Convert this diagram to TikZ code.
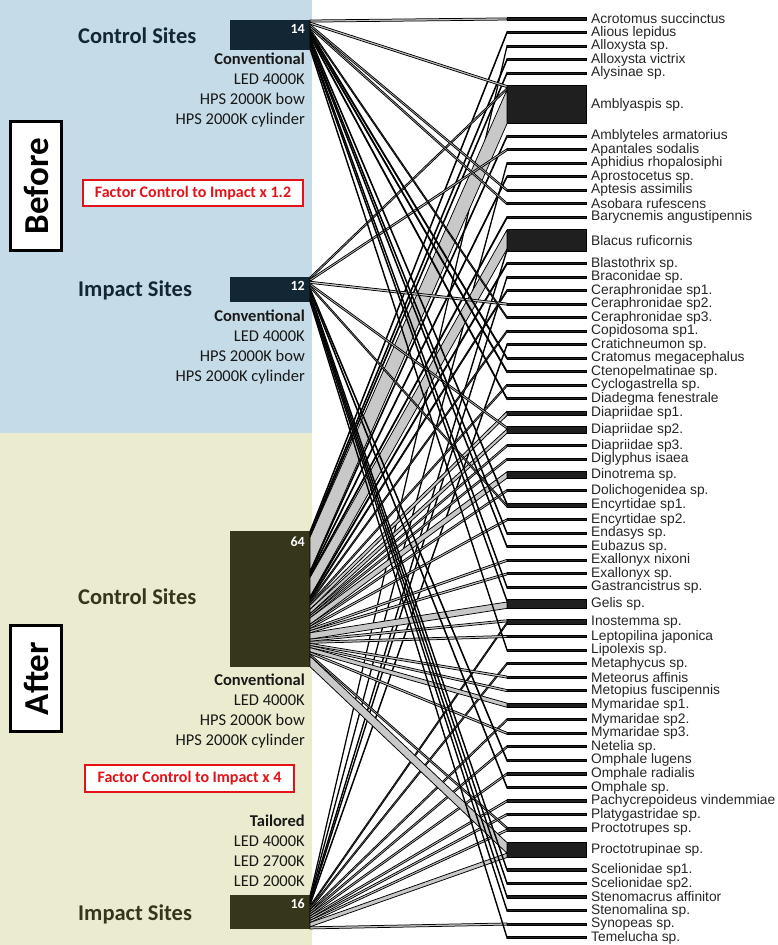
\documentclass[tikz,border=0pt]{standalone}
\usepackage{fontspec}
\setmainfont{Carlito}
\newfontfamily\arialfont{Liberation Sans}
\usetikzlibrary{positioning,calc}

\definecolor{beforebg}{RGB}{197,219,231}
\definecolor{afterbg}{RGB}{235,235,207}
\definecolor{navy}{RGB}{19,38,52}
\definecolor{olive}{RGB}{54,54,28}
\definecolor{linkgray}{RGB}{200,200,200}
\definecolor{factorred}{RGB}{226,18,24}

\def\wu{2.12}    % height of one individual
\def\wgap{11.41} % gap between the species bars

\tikzset{
  site/.style={
    rectangle,
    minimum width=80pt,
    inner sep=0pt,
    outer sep=0pt,
    anchor=north east
    },
  sitename/.style={
    anchor=west,
    inner sep=0pt,
    font=\fontsize{22.5}{24}\selectfont\bfseries
    },
  count/.style={
    inner sep=0pt,
    text=white,
    font=\fontsize{14}{14}\selectfont\bfseries
    },
  lamps/.style={
    align=right,
    inner sep=0pt,
    text=black!90,
    font=\fontsize{16.5}{20}\selectfont
    },
  period/.style={
    rectangle,
    draw=black,
    line width=3pt,
    fill=white,
    rotate=90,
    minimum height=51pt,
    font=\fontsize{35}{35}\selectfont\bfseries
    },
  factor/.style={
    rectangle,
    draw=factorred,
    line width=2pt,
    fill=white,
    text=factorred,
    font=\fontsize{16}{16}\selectfont\bfseries
    },
  bar/.style={
    rectangle,
    draw=black,
    fill=black!88,
    line width=0.9pt,
    minimum width=79pt,
    inner sep=0pt,
    outer sep=0pt,
    anchor=north west
    },
  splabel/.style={
    inner sep=0pt,
    text=black!85,
    font=\arialfont\fontsize{13.8}{14}\selectfont
    },
  link/.style={draw=black, fill=linkgray, line width=0.75pt, line join=round},
}

% one interaction: site node, number of individuals
\newcommand\weblink[2]{%
  \ifnum#2>0
    \pgfmathsetmacro\lw{#2*\wu}%
    \edef\lo{\csname off#1\endcsname}%
    \filldraw[link] ($(#1.north east)+(0,\lo)$) -- ($(#1.north east)+(0,\lo+\lw)$)
      -- ($(s\i.north west)+(0,\ro+\lw)$) -- ($(s\i.north west)+(0,\ro)$) -- cycle;
    \pgfmathsetmacro\tmp{\lo+\lw}\expandafter\xdef\csname off#1\endcsname{\tmp}%
    \pgfmathsetmacro\tmp{\ro+\lw}\xdef\ro{\tmp}%
  \fi}

\begin{document}
\begin{tikzpicture}[x=1pt, y=-1pt]

\useasboundingbox (0,0) rectangle (778,945);
\fill[white] (0,0) rectangle (778,945);
\fill[beforebg] (0,0) rectangle (312,433);
\fill[afterbg] (0,433) rectangle (312,945);

% sites
\node[site, fill=navy, minimum height={14*\wu*1pt}] (cb) at (310,20) {};
\node[site, fill=navy, minimum height={12*\wu*1pt}] (ib) at (310,277) {};
\node[site, fill=olive, minimum height={64*\wu*1pt}] (ca) at (310,531) {};
\node[site, fill=olive, minimum height={16*\wu*1pt}] (ia) at (310,895) {};

\node[count, below left=4pt and 5pt of cb.north east] (cbn) {14};
\node[count, below left=4pt and 5pt of ib.north east] (ibn) {12};
\node[count, below left=6pt and 5pt of ca.north east] (can) {64};
\node[count, below left=3.5pt and 5pt of ia.north east] (ian) {16};

\node[sitename, text=navy] (cbname) at (78,36) {Control Sites};
\node[sitename, text=navy] (ibname) at (78,290) {Impact Sites};
\node[sitename, text=olive] (caname) at (78,597) {Control Sites};
\node[sitename, text=olive] (ianame) at (78,914) {Impact Sites};

\node[lamps, below left=3.3pt and 5pt of cb.south east] (cblamps)
  {\textbf{Conventional}\\LED 4000K\\HPS 2000K bow\\HPS 2000K cylinder};
\node[lamps, below left=7pt and 5pt of ib.south east] (iblamps)
  {\textbf{Conventional}\\LED 4000K\\HPS 2000K bow\\HPS 2000K cylinder};
\node[lamps, below left=6.6pt and 5pt of ca.south east] (calamps)
  {\textbf{Conventional}\\LED 4000K\\HPS 2000K bow\\HPS 2000K cylinder};
\node[lamps, above left=8.3pt and 5pt of ia.north east] (ialamps)
  {\textbf{Tailored}\\LED 4000K\\LED 2700K\\LED 2000K};

\node[period, minimum width=129pt] (before) at (36,186) {Before};
\node[period, minimum width=106pt] (after) at (36,678.5) {After};

\node[factor, minimum width=220pt, minimum height=26pt] (cbfactor) at (193,193)
  {Factor Control to Impact x 1.2};
\node[factor, minimum width=209pt, minimum height=27pt] (cafactor) at (189.5,778.5)
  {Factor Control to Impact x 4};

% species: name / control before / impact before / control after / impact after
\xdef\ry{17.9}
\xdef\offcb{0}\xdef\offib{0}\xdef\offca{0}\xdef\offia{0}
\foreach \nm/\a/\b/\c/\d [count=\i] in {
  Acrotomus succinctus/1/0/0/0, Alious lepidus/0/0/1/0, Alloxysta sp./0/0/0/1,
  Alloxysta victrix/0/0/1/0, Alysinae sp./0/0/1/0, Amblyaspis sp./1/1/16/0,
  Amblyteles armatorius/0/0/1/0, Apantales sodalis/0/1/0/0,
  Aphidius rhopalosiphi/0/0/0/1, Aprostocetus sp./0/0/1/0,
  Aptesis assimilis/1/0/0/0, Asobara rufescens/1/0/0/0,
  Barycnemis angustipennis/0/0/1/0, Blacus ruficornis/0/0/9/1,
  Blastothrix sp./0/0/1/0, Braconidae sp./0/0/0/1, Ceraphronidae sp1./0/0/1/0,
  Ceraphronidae sp2./0/1/0/0, Ceraphronidae sp3./1/0/0/0, Copidosoma sp1./0/0/1/0,
  Cratichneumon sp./0/0/0/1, Cratomus megacephalus/1/0/0/0,
  Ctenopelmatinae sp./1/0/0/0, Cyclogastrella sp./0/0/1/0,
  Diadegma fenestrale/1/0/0/0, Diapriidae sp1./0/0/2/0, Diapriidae sp2./0/1/2/0,
  Diapriidae sp3./0/0/1/0, Diglyphus isaea/0/0/1/0, Dinotrema sp./0/0/3/0,
  Dolichogenidea sp./0/0/1/0, Encyrtidae sp1./1/1/0/0, Encyrtidae sp2./0/0/1/0,
  Endasys sp./1/0/0/0, Eubazus sp./1/0/0/0, Exallonyx nixoni/0/0/1/0,
  Exallonyx sp./0/0/1/0, Gastrancistrus sp./1/0/0/0, Gelis sp./1/0/3/0,
  Inostemma sp./0/0/1/1, Leptopilina japonica/0/0/1/0, Lipolexis sp./1/0/0/0,
  Metaphycus sp./0/0/0/1, Meteorus affinis/0/0/1/0, Metopius fuscipennis/0/0/1/0,
  Mymaridae sp1./0/0/2/0, Mymaridae sp2./0/0/0/1, Mymaridae sp3./0/0/1/0,
  Netelia sp./0/0/0/1, Omphale lugens/0/1/0/0, Omphale radialis/0/0/0/1,
  Omphale sp./0/1/0/0, Pachycrepoideus vindemmiae/0/0/0/1,
  Platygastridae sp./0/0/0/1, Proctotrupes sp./0/0/1/1,
  Proctotrupinae sp./0/0/5/2, Scelionidae sp1./0/1/0/0, Scelionidae sp2./0/1/0/0,
  Stenomacrus affinitor/0/1/0/0, Stenomalina sp./0/1/0/0, Synopeas sp./0/0/0/1,
  Temelucha sp./0/1/0/0}
{
  \pgfmathsetmacro\h{(\a+\b+\c+\d)*\wu}
  \node[bar, minimum height=\h pt] (s\i) at (507,\ry) {};
  \node[splabel, right=5pt of s\i] (l\i) {\nm};
  \xdef\ro{0}
  \weblink{cb}{\a}\weblink{ib}{\b}\weblink{ca}{\c}\weblink{ia}{\d}
  \pgfmathsetmacro\tmp{\ry+\h+\wgap}\xdef\ry{\tmp}
}

\end{tikzpicture}
\end{document}
